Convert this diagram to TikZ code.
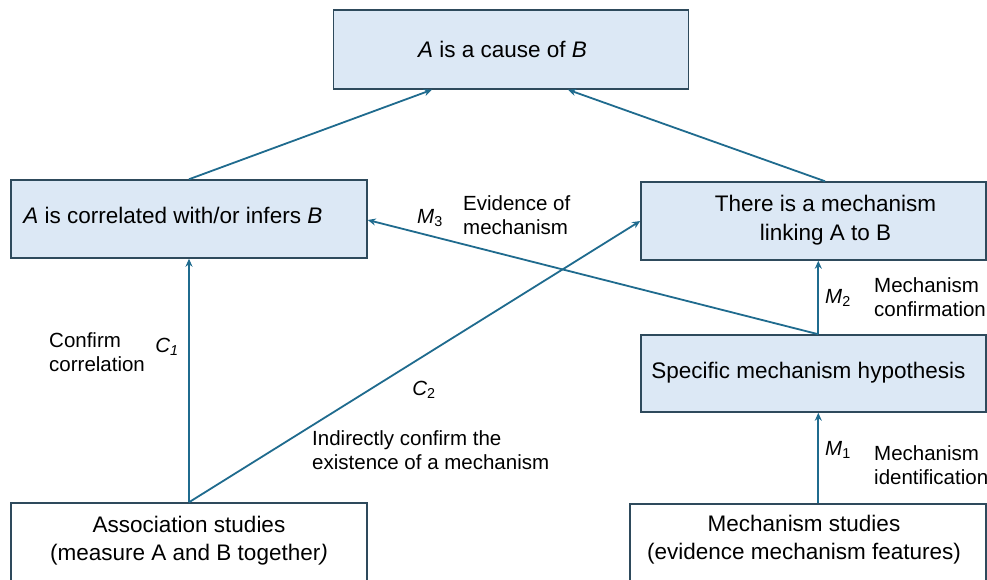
\documentclass[tikz,border=0pt]{standalone}
\usepackage{fontspec}
\setmainfont{Liberation Sans}
\usetikzlibrary{arrows.meta}
\definecolor{boxfill}{HTML}{DCE8F5}
\definecolor{boxline}{HTML}{2E4A5C}
\definecolor{arr}{HTML}{1F6B8E}
\begin{document}
\begin{tikzpicture}[x=1pt,y=-1pt,
  box/.style={draw=boxline, line width=1.5pt, fill=boxfill, rectangle, inner sep=0pt},
  wbox/.style={box, fill=white},
  txt/.style={font=\fontsize{22.5}{28}\selectfont, inner sep=0pt, text=black},
  conn/.style={draw=arr, line width=1.8pt, -{Stealth[length=8pt,width=7pt]}},
  lbl/.style={font=\fontsize{20.5}{24.5}\selectfont, inner sep=0pt, align=left, text=black}]
\clip (0,0) rectangle (987,580);
\fill[white] (0,0) rectangle (987,580);
% boxes
\node[box, minimum width=355pt, minimum height=79pt,
  label={[txt, xshift=-8.5pt, yshift=0pt]center:\textit{A} is a cause of \textit{B}}] (cause) at (511,49.5) {};
\node[box, minimum width=356pt, minimum height=78pt,
  label={[txt, anchor=west, xshift=13pt, yshift=4pt]west:\textit{A} is correlated with/or infers \textit{B}}] (corr) at (189,219) {};
\node[box, minimum width=345pt, minimum height=78pt,
  label={[txt, align=center, font=\fontsize{22.5}{29}\selectfont, xshift=12pt, yshift=0.5pt]center:There is a mechanism\\linking A to B}] (link) at (813.5,221) {};
\node[box, minimum width=345pt, minimum height=77pt,
  label={[txt, anchor=west, xshift=11pt, yshift=1pt]west:Specific mechanism hypothesis}] (spec) at (813.5,373.5) {};
\node[wbox, minimum width=356pt, minimum height=100pt,
  label={[txt, align=center, font=\fontsize{22.5}{27.5}\selectfont, yshift=12.5pt]center:Association studies\\(measure A and B together\textit{)}}] (assoc) at (189,553) {};
\node[wbox, minimum width=356pt, minimum height=100pt,
  label={[txt, align=center, xshift=-4pt, yshift=14pt]center:Mechanism studies\\(evidence mechanism features)}] (mstud) at (808,554) {};
% connectors
\draw[conn] (corr.north) -- ([xshift=-79pt]cause.south);
\draw[conn] ([xshift=11.5pt]link.north) -- ([xshift=57pt]cause.south);
\draw[conn] (assoc.north) -- (corr.south);
\draw[conn] (assoc.north) -- (link.west);
\draw[conn] ([xshift=4.8pt]spec.north) -- ([yshift=-1pt]corr.east);
\draw[conn] ([xshift=4.8pt]spec.north) -- ([xshift=4.8pt]link.south);
\draw[conn] ([xshift=10.3pt]mstud.north) -- ([xshift=4.8pt]spec.south);
% labels
\node[lbl] (m3) at (430,218) {\textit{M}\textsubscript{3}};
\node[lbl, anchor=west] (evid) at (463,215) {Evidence of\\mechanism};
\node[lbl] (m2) at (838,298) {\textit{M}\textsubscript{2}};
\node[lbl, anchor=west] (mconf) at (874,297) {Mechanism\\confirmation};
\node[lbl] (m1) at (838,450) {\textit{M}\textsubscript{1}};
\node[lbl, anchor=west] (mident) at (874,465) {Mechanism\\identification};
\node[lbl, anchor=west] (confc) at (49,352) {Confirm\\correlation};
\node[lbl] (c1) at (167,346.5) {\textit{C\textsubscript{1}}};
\node[lbl] (c2) at (424,390) {\textit{C}\textsubscript{2}};
\node[lbl, anchor=west] (indir) at (312,450) {Indirectly confirm the\\existence of a mechanism};
\end{tikzpicture}
\end{document}
